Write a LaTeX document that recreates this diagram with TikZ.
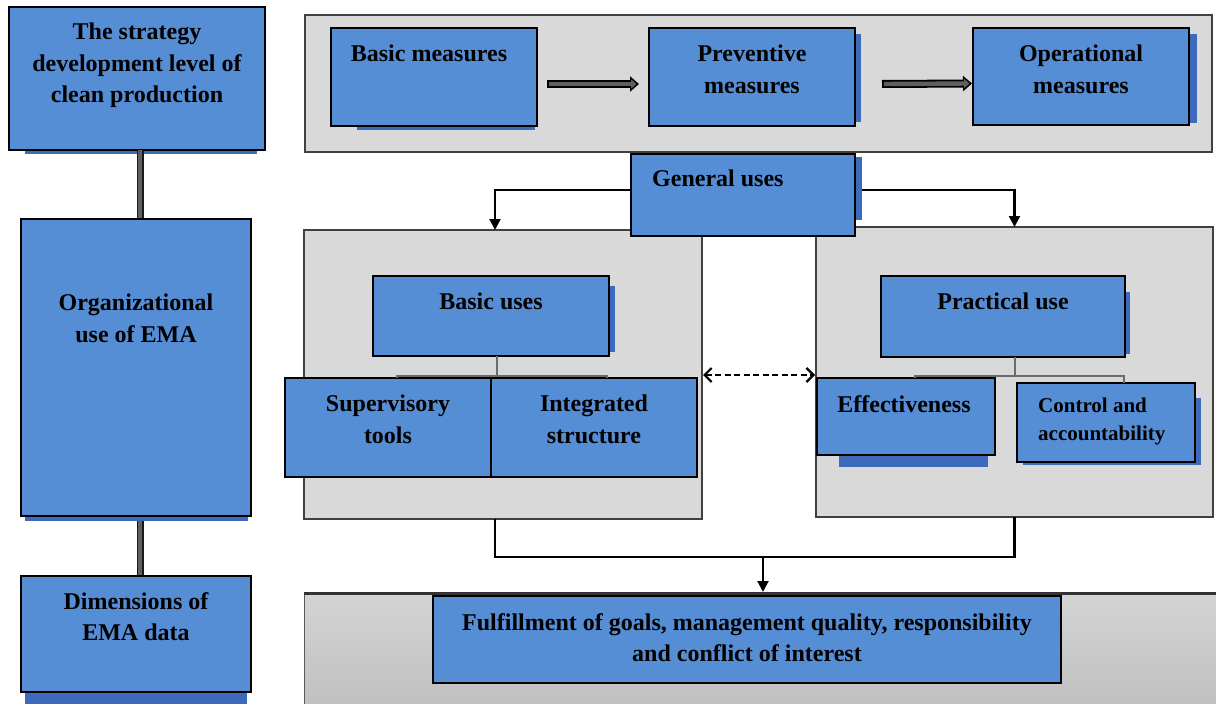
\documentclass[tikz,border=0pt]{standalone}
\usepackage{fontspec}
\setmainfont{Liberation Serif}
\usetikzlibrary{arrows.meta}
\definecolor{boxblue}{RGB}{85,142,213}
\definecolor{shadowblue}{RGB}{62,106,188}
\definecolor{panelgray}{RGB}{217,217,217}
\definecolor{edgegray}{RGB}{64,64,64}
\definecolor{bottop}{RGB}{212,212,212}
\definecolor{botbot}{RGB}{192,192,192}
\definecolor{arrowgray}{RGB}{95,95,95}
\tikzset{
  box/.style={draw=black, line width=1.2pt, fill=boxblue, inner sep=0pt, outer sep=0pt, anchor=north west},
  panel/.style={draw=edgegray, line width=1.6pt, fill=panelgray, inner sep=0pt, outer sep=0pt, anchor=north west},
  shade/.style={fill=shadowblue},
  txt/.style={font=\bfseries\fontsize{24}{31.5}\selectfont, inner sep=0pt, align=center, anchor=north},
  smalltxt/.style={font=\bfseries\fontsize{21}{27.5}\selectfont, inner sep=0pt, align=left, anchor=north west},
  conn/.style={draw=black, line width=2.1pt},
  tip/.style={-{Triangle[length=11pt,width=11pt]}},
  tree/.style={draw=gray!85!black, line width=1.2pt},
  pillar/.style={line width=7pt, draw=black!90},
  pillarcore/.style={line width=3.2pt, draw=arrowgray},
  blockout/.style={line width=8pt, draw=black, -{Triangle[length=9pt,width=15pt]}},
  blockin/.style={line width=4.4pt, draw=arrowgray, -{Triangle[length=5.5pt,width=9pt]}},
}
\begin{document}
\begin{tikzpicture}[x=1pt,y=-1pt]
\useasboundingbox (0,0) rectangle (1216,704);

% ---------- panels ----------
\node[panel, minimum width=907pt, minimum height=137pt] (tp) at (305,15) {};
\node[panel, minimum width=398pt, minimum height=289pt] (lp) at (304,230) {};
\node[panel, minimum width=397pt, minimum height=290pt] (rp) at (816,227) {};
\shade[top color=bottop, bottom color=botbot] (304,593) rectangle (1222,706);
\node[draw=gray!70!black, line width=1pt, inner sep=0pt, outer sep=0pt, anchor=north west, minimum width=918pt, minimum height=113pt] (bp) at (304,593) {};
\draw[line width=3pt, black!80] (bp.north west) -- (bp.north east);

% ---------- left column ----------
\fill[shade] (25,146) rectangle (257,154);
\node[box, minimum width=256pt, minimum height=143pt] (b1) at (9,7) {};
\node[txt] at (137,23) {The strategy\\development level of\\clean production};

\draw[pillar] (b1.south -| 140,0) -- (140,219);
\draw[pillarcore] (b1.south -| 140,0) -- (140,219);

\fill[shade] (25,512) rectangle (248,521);
\node[box, minimum width=230pt, minimum height=297pt] (b2) at (21,219) {};
\node[txt] at (136,294) {Organizational\\use of EMA};

\draw[pillar] (140,521) -- (140,576);
\draw[pillarcore] (140,521) -- (140,576);

\fill[shade] (25,688) rectangle (247,706);
\node[box, minimum width=230pt, minimum height=116pt] (b3) at (21,576) {};
\node[txt] at (136,592) {Dimensions of\\EMA data};

% ---------- top row ----------
\fill[shade] (357,122) rectangle (535,130);
\node[box, minimum width=206pt, minimum height=98pt] (m1) at (331,28) {};
\node[txt] at (429,45) {Basic measures};

\fill[shade] (853,34) rectangle (861,122);
\node[box, minimum width=206pt, minimum height=98pt] (m2) at (649,28) {};
\node[txt] at (752,45) {Preventive\\measures};

\fill[shade] (1187,34) rectangle (1197,123);
\node[box, minimum width=216pt, minimum height=97pt] (m3) at (973,28) {};
\node[txt] at (1081,45) {Operational\\measures};

\draw[blockout] ([xshift=10pt,yshift=-7pt]m1.east) -- ([xshift=-10pt,yshift=-7pt]m2.west);
\draw[blockin] ([xshift=11.8pt,yshift=-7pt]m1.east) -- ([xshift=-12.5pt,yshift=-7pt]m2.west);
\draw[blockout] ([xshift=27pt,yshift=-7pt]m2.east) -- ([xshift=-1pt,yshift=-7pt]m3.west);
\draw[blockin] ([xshift=28.8pt,yshift=-7pt]m2.east) -- ([xshift=-3.5pt,yshift=-7pt]m3.west);

% ---------- general uses ----------
\draw[conn, tip] (631,190) -| ([xshift=-8pt]lp.north);
\draw[conn, tip] (855,190) -| (rp.north);
\fill[shade] (853,157) rectangle (862,220);
\node[box, minimum width=224pt, minimum height=82pt] (gen) at (631,154) {};
\node[txt, anchor=north west] at (652,170) {General uses};

% ---------- left panel ----------
\fill[shade] (607,286) rectangle (615,352);
\node[box, minimum width=236pt, minimum height=80pt] (bu) at (373,276) {};
\node[txt] at (491,293) {Basic uses};
\node[box, minimum width=206pt, minimum height=99pt] (st) at (285,378) {};
\node[box, minimum width=206pt, minimum height=99pt] (is) at (491,378) {};
\node[txt] at (388,395) {Supervisory\\tools};
\node[txt] at (594,395) {Integrated\\structure};
\draw[tree] ([xshift=6pt]bu.south) -- ([xshift=6pt,yshift=2pt]bu.south |- st.north);
\draw[tree] ([xshift=112pt]st.north west) |- ([xshift=-90pt,yshift=2pt]is.north east) -- ([xshift=-90pt]is.north east);

% ---------- right panel ----------
\fill[shade] (1123,292) rectangle (1130,354);
\node[box, minimum width=244pt, minimum height=81pt] (pu) at (881,276) {};
\node[txt] at (1003,293) {Practical use};
\fill[shade] (839,453) rectangle (988,467);
\node[box, minimum width=178pt, minimum height=77pt] (ef) at (817,378) {};
\node[txt] at (904,395) {Effectiveness};
\fill[shade] (1023,398) rectangle (1201,465);
\node[box, minimum width=178pt, minimum height=79pt] (ca) at (1017,383) {};
\node[smalltxt] at (1038,398) {Control and\\accountability};
\draw[tree] ([xshift=12pt]pu.south) -- ([xshift=12pt,yshift=2pt]pu.south |- ef.north);
\draw[tree] ([xshift=-1pt]ef.north -| 916,0) |- ([yshift=2pt]ef.north -| 1124,0) -- (ca.north -| 1124,0);

% ---------- dashed link ----------
\draw[line width=2.2pt, dash pattern=on 6pt off 3.5pt,
      {Straight Barb[length=7pt,width=14pt,line width=2.2pt]}-{Straight Barb[length=7pt,width=14pt,line width=2.2pt]}]
      ([xshift=1pt]lp.east |- 0,375) -- ([xshift=-1pt]rp.west |- 0,375);

% ---------- bottom ----------
\draw[conn] ([xshift=-8pt]lp.south) |- (rp.south |- 0,557) -- (rp.south);
\draw[conn, tip] (bp.north |- 0,557) -- ([yshift=1pt]bp.north);
\node[box, minimum width=628pt, minimum height=87pt] (ful) at (433,596) {};
\node[txt] at (747,613) {Fulfillment of goals, management quality, responsibility\\and conflict of interest};
\end{tikzpicture}
\end{document}
